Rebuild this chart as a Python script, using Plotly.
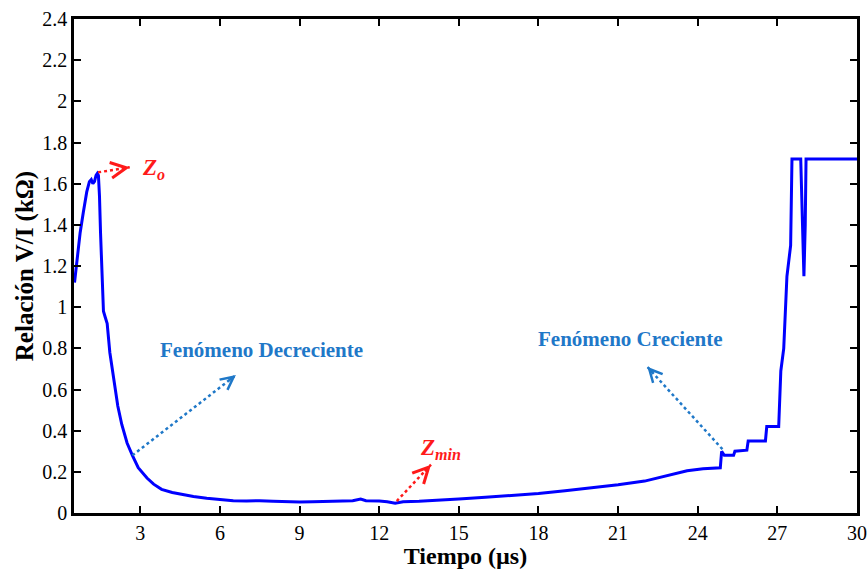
import plotly.graph_objects as go

# Data (time in µs, V/I ratio in kΩ)
tiempo_us = [
    0.52, 0.60, 0.73, 0.85, 0.98, 1.08, 1.15, 1.21, 1.27, 1.33, 1.38, 1.42,
    1.46, 1.50, 1.55, 1.61, 1.68, 1.75, 1.85, 2.00, 2.15, 2.30, 2.50, 2.70,
    2.92, 3.25, 3.50, 3.80, 4.20, 4.60, 5.00, 5.50, 6.00, 6.50, 7.00, 7.50,
    8.00, 8.50, 9.00, 9.50, 10.0, 10.5, 11.0, 11.3, 11.5, 12.0, 12.3, 12.6,
    12.9, 13.5, 14.0, 14.5, 15.0, 16.0, 17.0, 18.0, 19.0, 20.0, 21.0, 22.0,
    22.5, 23.0, 23.6, 24.2, 24.85, 24.9, 25.0, 25.35, 25.4, 25.85, 25.9,
    26.55, 26.6, 27.05, 27.13, 27.24, 27.36, 27.5, 27.55, 27.88, 27.95,
    28.0, 28.05, 28.08, 30.0,
]
relacion_kohm = [
    1.12, 1.22, 1.36, 1.46, 1.56, 1.61, 1.62, 1.60, 1.61, 1.64, 1.65, 1.64,
    1.54, 1.36, 1.17, 0.98, 0.95, 0.92, 0.78, 0.64, 0.52, 0.43, 0.34, 0.28,
    0.22, 0.17, 0.14, 0.115, 0.10, 0.09, 0.08, 0.072, 0.065, 0.060, 0.058, 0.060,
    0.057, 0.055, 0.053, 0.055, 0.057, 0.058, 0.060, 0.068, 0.060, 0.058, 0.055, 0.048,
    0.055, 0.057, 0.060, 0.064, 0.068, 0.076, 0.085, 0.095, 0.108, 0.122, 0.137, 0.155,
    0.17, 0.185, 0.205, 0.215, 0.22, 0.30, 0.28, 0.28, 0.30, 0.305, 0.35,
    0.35, 0.42, 0.42, 0.69, 0.80, 1.15, 1.30, 1.72, 1.72, 1.30,
    1.15, 1.40, 1.72, 1.72,
]

x_ticks = [3, 6, 9, 12, 15, 18, 21, 24, 27, 30]
y_ticks = [0, 0.2, 0.4, 0.6, 0.8, 1.0, 1.2, 1.4, 1.6, 1.8, 2.0, 2.2, 2.4]
y_tick_labels = ["0", "0.2", "0.4", "0.6", "0.8", "1", "1.2", "1.4", "1.6",
                 "1.8", "2", "2.2", "2.4"]

RED = "#ff1a1a"
BLUE_TXT = "#1f78c8"
SERIF = "Liberation Serif, Times New Roman, serif"

fig = go.Figure()
fig.add_trace(go.Scatter(x=tiempo_us, y=relacion_kohm, mode="lines",
                         line=dict(color="#0000ff", width=3),
                         showlegend=False, hoverinfo="skip"))

# Dotted arrows: (x0, y0) tail -> (x1, y1) head, colour, head fraction, head size
arrows = [
    (1.41, 1.655, 2.60, 1.68, RED, 0.25, 1.4),
    (12.66, 0.058, 13.95, 0.235, RED, 0.22, 1.4),
    (2.70, 0.28, 6.60, 0.67, BLUE_TXT, 0.08, 1.15),
    (24.93, 0.31, 22.10, 0.71, BLUE_TXT, 0.08, 1.15),
]
for x0, y0, x1, y1, c, f, s in arrows:
    fig.add_trace(go.Scatter(x=[x0, x1], y=[y0, y1], mode="lines",
                             line=dict(color=c, width=2.5, dash="dot"),
                             showlegend=False, hoverinfo="skip"))
    dx = x1 - x0
    dy = y1 - y0
    fig.add_annotation(x=x1, y=y1, ax=x1 - dx * f, ay=y1 - dy * f,
                       xref="x", yref="y", axref="x", ayref="y",
                       text="", showarrow=True, arrowhead=5, arrowsize=s,
                       arrowwidth=2.2, arrowcolor=c)

fig.add_annotation(x=3.0, y=1.67, xref="x", yref="y", showarrow=False,
                   text="<b><i>Z</i></b><sub><b><i>o</i></b></sub>",
                   font=dict(family=SERIF, size=23, color=RED), xanchor="left")
fig.add_annotation(x=13.45, y=0.31, xref="x", yref="y", showarrow=False,
                   text="<b><i>Z</i></b><sub><b><i>min</i></b></sub>",
                   font=dict(family=SERIF, size=23, color=RED), xanchor="left")
fig.add_annotation(x=7.55, y=0.79, xref="x", yref="y", showarrow=False,
                   text="<b>Fenómeno Decreciente</b>",
                   font=dict(family=SERIF, size=21, color=BLUE_TXT))
fig.add_annotation(x=21.45, y=0.847, xref="x", yref="y", showarrow=False,
                   text="<b>Fenómeno Creciente</b>",
                   font=dict(family=SERIF, size=21, color=BLUE_TXT))

axis_common = dict(showline=True, linecolor="black", linewidth=2.5, mirror="ticks",
                   ticks="inside", ticklen=7, tickwidth=1.5, tickcolor="black",
                   showgrid=False, zeroline=False, automargin=False,
                   tickfont=dict(family=SERIF, size=20, color="black"))

fig.update_xaxes(range=[0.5, 30], tickvals=x_ticks,
                 title=dict(text="<b>Tiempo (µs)</b>", standoff=0,
                            font=dict(family=SERIF, size=24, color="black")),
                 **axis_common)
fig.update_yaxes(range=[0, 2.4], tickvals=y_ticks, ticktext=y_tick_labels,
                 title=dict(text="<b>Relación V/I (kΩ)</b>", standoff=2,
                            font=dict(family=SERIF, size=25, color="black")),
                 **axis_common)

fig.update_layout(width=868, height=569, plot_bgcolor="white", paper_bgcolor="white",
                  margin=dict(l=74, r=11, t=19, b=56))

fig.write_html("out.html")
